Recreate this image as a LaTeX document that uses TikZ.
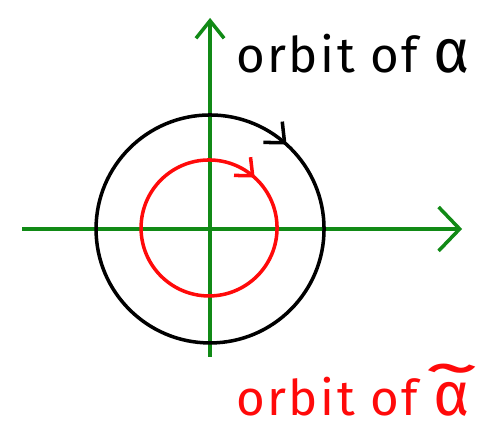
\documentclass[tikz,border=0pt]{standalone}
\usepackage{fontspec}
\setmainfont{Fira Sans}[LetterSpace=5]
\usepackage{tikz}
\usetikzlibrary{arrows.meta,calc,decorations.markings}
\definecolor{axisgreen}{HTML}{118A16}
\definecolor{inner}{HTML}{FF0A0A}
\definecolor{ink}{HTML}{000000}
\newcommand{\galpha}{\scalebox{1.25}{α}}
\newcommand{\gtilde}{\scalebox{2.3}[1.4]{\textasciitilde}}
\newcommand{\talpha}{\ooalign{\galpha\cr\hidewidth\raisebox{0.5em}{\gtilde}\hidewidth\cr}}
\tikzset{>={Straight Barb[length=10pt,width=16pt,line width=2pt]},
  axis/.style={draw=axisgreen,line width=2pt,->},
  orbit/.style={line width=2pt},
  flow/.style={postaction={decorate},decoration={markings,
    mark=at position 0.117 with {\arrow{>}}}},
  lab/.style={font=\fontsize{28}{32}\selectfont,anchor=base west,inner sep=0pt}}

\begin{document}
\begin{tikzpicture}[scale=0.02]
  \useasboundingbox (0,0) rectangle (498,425);
  \coordinate (O) at (210,196);
  \coordinate (xl) at (22,196);
  \coordinate (xr) at (462,196);
  \coordinate (yb) at (210,68);
  \coordinate (yt) at (210,407);
  \draw[axis,-{Straight Barb[length=12pt,width=25pt,line width=2pt]}] (xl)--(xr);
  \draw[axis] (yb)--(yt);
  % outer orbit, clockwise
  \draw[orbit,ink,flow,>={Straight Barb[length=9pt,width=16pt,line width=2pt]}]
    ($(O)+(0,114)$) arc[start angle=90,end angle=-270,radius=114];
  % inner orbit
  \draw[orbit,inner,flow,>={Straight Barb[length=8pt,width=14pt,line width=2pt]}]
    ($(O)+(-1,69)$) arc[start angle=90,end angle=-270,radius=68];
  \node[lab,text=ink] (top) at (236,353) {orbit of \galpha};
  \node[lab,text=inner] (bot) at (236,10) {orbit of \talpha};
\end{tikzpicture}
\end{document}
